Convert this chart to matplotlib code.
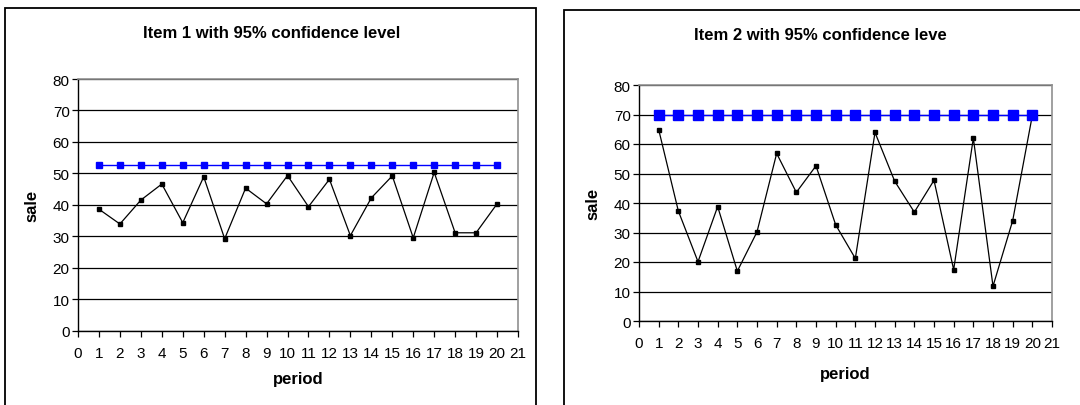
import matplotlib
matplotlib.use("Agg")
import matplotlib.pyplot as plt
from matplotlib.patches import Rectangle
import numpy as np

plt.rcParams["font.family"] = ["Liberation Sans", "DejaVu Sans"]

# sales per period and the 95% upper control limit
periods = list(range(1, 21))
item1_sale = [38.6, 33.9, 41.5, 46.6, 34.3, 48.9, 29.2, 45.3, 40.3, 49.3,
              39.4, 48.1, 30.2, 42.2, 49.2, 29.5, 50.3, 31.1, 31.1, 40.3]
item1_limit = [52.6] * 20
item2_sale = [64.9, 37.3, 20.1, 38.8, 16.9, 30.2, 56.8, 43.6, 52.6, 32.6,
              21.2, 63.9, 47.4, 36.9, 47.7, 17.4, 62.0, 11.8, 34.0, 69.7]
item2_limit = [69.7] * 20

titles = ["Item 1 with 95% confidence level", "Item 2 with 95% confidence leve"]

W, H = 1080, 406
fig = plt.figure(figsize=(W / 100, H / 100), dpi=100)


def px_axes(x0, x1, ytop, ybot):
    return fig.add_axes([x0 / W, 1 - ybot / H, (x1 - x0) / W, (ybot - ytop) / H])


def frame(x0, x1, ytop, ybot):
    fig.add_artist(Rectangle((x0 / W, 1 - ybot / H), (x1 - x0) / W, (ybot - ytop) / H,
                             transform=fig.transFigure, fill=False,
                             edgecolor="black", linewidth=1.3, clip_on=False))


def draw(ax, sale, limit, title, limit_ms, title_x, title_y, xlab_y, ylab_x):
    ax.plot(periods, sale, "-s", color="black", linewidth=0.9, markersize=3.5, zorder=3)
    ax.plot(periods, limit, "-s", color="#0000FF", linewidth=1.0, markersize=limit_ms,
            markeredgecolor="#0000FF", zorder=4)
    ax.set_xlim(0, 21)
    ax.set_ylim(0, 80)
    ax.set_xticks(np.arange(0, 22))
    ax.set_yticks(np.arange(0, 81, 10))
    ax.yaxis.grid(True, color="black", linewidth=0.9)
    ax.set_axisbelow(True)
    ax.tick_params(direction="out", length=4, width=0.9, labelsize=11, pad=2)
    ax.tick_params(axis="x", pad=7)
    for s in ["top", "right"]:
        ax.spines[s].set_color("#909090")
        ax.spines[s].set_linewidth(1.2)
    for s in ["left", "bottom"]:
        ax.spines[s].set_color("black")
        ax.spines[s].set_linewidth(1.0)
    fig.text(title_x / W, 1 - title_y / H, title, ha="center", va="center",
             fontsize=12, fontweight="bold")
    bb = ax.get_position()
    fig.text((bb.x0 + bb.x1) / 2, 1 - xlab_y / H, "period", ha="center", va="center",
             fontsize=12, fontweight="bold")
    fig.text(ylab_x / W, (bb.y0 + bb.y1) / 2, "sale", ha="center", va="center",
             rotation=90, fontsize=12, fontweight="bold")


frame(5, 536, 9, 420)
frame(564, 1100, 11, 420)

ax1 = px_axes(78, 518, 80, 331.6)
draw(ax1, item1_sale, item1_limit, titles[0], 5, 272, 33, 380, 32)

ax2 = px_axes(639, 1052, 86, 322)
draw(ax2, item2_sale, item2_limit, titles[1], 7, 820, 35, 375, 593)

fig.savefig("out.png", dpi=100)
